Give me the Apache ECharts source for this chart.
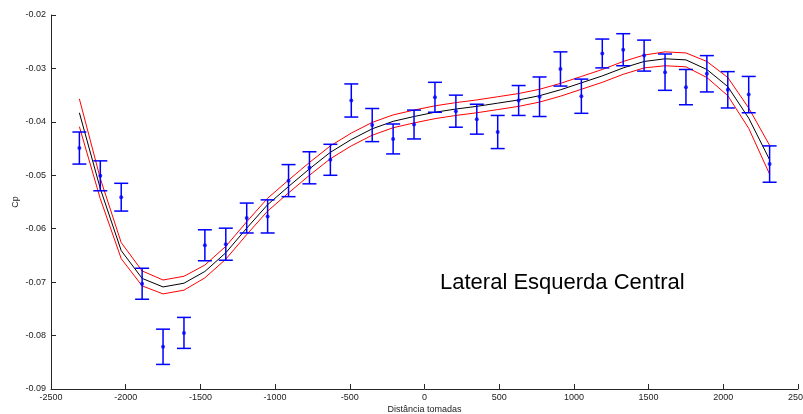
<!DOCTYPE html>
<html>
<head>
<meta charset="utf-8">
<script src="https://cdn.jsdelivr.net/npm/echarts@6/dist/echarts.min.js"></script>
<style>
  html, body { margin: 0; padding: 0; background: #fff; }
  #chart { width: 803px; height: 414px; }
</style>
</head>
<body>
<div id="chart"></div>
<script>
const positions = [
  -2310, -2170, -2030, -1890, -1750, -1610, -1470, -1330, -1190, -1050,
  -910, -770, -630, -490, -350, -210, -70, 70, 210, 350,
  490, 630, 770, 910, 1050, 1190, 1330, 1470, 1610, 1750,
  1890, 2030, 2170, 2310
]

// measured Cp mean at each tap
const cpMeasured = [
  -0.0449, -0.0501, -0.0541, -0.0703, -0.0821, -0.0795, -0.0631, -0.0629, -0.0580, -0.0577,
  -0.0510, -0.0486, -0.0471, -0.0360, -0.0406, -0.0432, -0.0405, -0.0354, -0.0380, -0.0395,
  -0.0419, -0.0360, -0.0353, -0.0301, -0.0352, -0.0272, -0.0265, -0.0276, -0.0307, -0.0335,
  -0.0310, -0.0340, -0.0349, -0.0479
]

// half height of each error bar
const cpError = [
  0.0030, 0.0028, 0.0026, 0.0029, 0.0033, 0.0029, 0.0029, 0.0030, 0.0028, 0.0031,
  0.0030, 0.0030, 0.0029, 0.0031, 0.0031, 0.0028, 0.0027, 0.0028, 0.0030, 0.0028,
  0.0031, 0.0028, 0.0037, 0.0032, 0.0032, 0.0027, 0.0030, 0.0029, 0.0034, 0.0033,
  0.0034, 0.0034, 0.0034, 0.0034
]

// fitted curve and its band
const cpFit = [
  -0.0383, -0.0525, -0.0641, -0.0693, -0.0709, -0.0702, -0.0680, -0.0645, -0.0599, -0.0555,
  -0.0521, -0.0488, -0.0457, -0.0433, -0.0413, -0.0399, -0.0390, -0.0382, -0.0376, -0.0371,
  -0.0365, -0.0359, -0.0351, -0.0340, -0.0327, -0.0314, -0.0299, -0.0287, -0.0282, -0.0284,
  -0.0302, -0.0334, -0.0393, -0.0471
]

const cpFitUpper = [
  -0.0357, -0.0506, -0.0626, -0.0679, -0.0696, -0.0689, -0.0668, -0.0633, -0.0587, -0.0543,
  -0.0509, -0.0476, -0.0445, -0.0421, -0.0401, -0.0387, -0.0378, -0.0370, -0.0364, -0.0359,
  -0.0353, -0.0347, -0.0339, -0.0328, -0.0315, -0.0302, -0.0287, -0.0275, -0.0269, -0.0271,
  -0.0287, -0.0317, -0.0374, -0.0444
]

const cpFitLower = [
  -0.0409, -0.0544, -0.0656, -0.0707, -0.0722, -0.0715, -0.0692, -0.0657, -0.0611, -0.0567,
  -0.0533, -0.0500, -0.0469, -0.0445, -0.0425, -0.0411, -0.0402, -0.0394, -0.0388, -0.0383,
  -0.0377, -0.0371, -0.0363, -0.0352, -0.0339, -0.0326, -0.0311, -0.0299, -0.0295, -0.0297,
  -0.0317, -0.0351, -0.0412, -0.0498
]

const chartTitle = "Lateral Esquerda Central"
const font = "'Liberation Sans', Arial, Helvetica, sans-serif"

const pairs = (ys) => positions.map((x, i) => [x, ys[i]])
const errorRows = positions.map((x, i) => [x, cpMeasured[i] - cpError[i], cpMeasured[i] + cpError[i]])

function renderErrorBar(params, api) {
  const x = api.value(0)
  const low = api.coord([x, api.value(1)])
  const high = api.coord([x, api.value(2)])
  const cap = 7
  const style = { stroke: "#0000ff", lineWidth: 1.5 }

  return {
    type: "group",
    children: [
      { type: "line", shape: { x1: low[0], y1: low[1], x2: high[0], y2: high[1] }, style },
      { type: "line", shape: { x1: low[0] - cap, y1: low[1], x2: low[0] + cap, y2: low[1] }, style },
      { type: "line", shape: { x1: high[0] - cap, y1: high[1], x2: high[0] + cap, y2: high[1] }, style }
    ]
  }
}

const chart = echarts.init(document.getElementById("chart"), null, { renderer: "canvas" })

chart.setOption({
  animation: false,
  backgroundColor: "#ffffff",
  grid: { left: 51, right: 5, top: 15, bottom: 25, containLabel: false, outerBoundsMode: "none" },
  xAxis: {
    type: "value",
    min: -2500,
    max: 2500,
    interval: 500,
    name: "Distância tomadas",
    nameLocation: "middle",
    nameGap: 16,
    nameMoveOverlap: false,
    nameTextStyle: { fontFamily: font, fontSize: 9, color: "#222" },
    axisLine: { onZero: false, lineStyle: { color: "#262626", width: 1 } },
    axisTick: { inside: true, length: 5, lineStyle: { color: "#262626" } },
    axisLabel: {
      fontFamily: font,
      fontSize: 9,
      color: "#222",
      margin: 4,
      formatter: (v) => String(v)
    },
    splitLine: { show: false }
  },
  yAxis: {
    type: "value",
    min: -0.09,
    max: -0.02,
    interval: 0.01,
    name: "Cp",
    nameLocation: "middle",
    nameGap: 31,
    nameMoveOverlap: false,
    nameTextStyle: { fontFamily: font, fontSize: 9, color: "#222" },
    axisLine: { onZero: false, lineStyle: { color: "#262626", width: 1 } },
    axisTick: { inside: true, length: 5, lineStyle: { color: "#262626" } },
    axisLabel: {
      fontFamily: font,
      fontSize: 9,
      color: "#222",
      margin: 5,
      formatter: (v) => v.toFixed(2)
    },
    splitLine: { show: false }
  },
  graphic: [
    {
      type: "text",
      left: 440,
      top: 272,
      style: { text: chartTitle, font: "22px " + font, fill: "#000" }
    }
  ],
  series: [
    {
      type: "line",
      data: pairs(cpFitUpper),
      symbol: "none",
      lineStyle: { color: "#ff0000", width: 1 },
      z: 2
    },
    {
      type: "line",
      data: pairs(cpFitLower),
      symbol: "none",
      lineStyle: { color: "#ff0000", width: 1 },
      z: 2
    },
    {
      type: "line",
      data: pairs(cpFit),
      symbol: "none",
      lineStyle: { color: "#000000", width: 1 },
      z: 2
    },
    {
      type: "custom",
      data: errorRows,
      renderItem: renderErrorBar,
      encode: { x: 0, y: [1, 2] },
      z: 3
    },
    {
      type: "scatter",
      data: pairs(cpMeasured),
      symbol: "circle",
      symbolSize: 4,
      itemStyle: { color: "#0000ff" },
      z: 4
    }
  ]
})
</script>
</body>
</html>
